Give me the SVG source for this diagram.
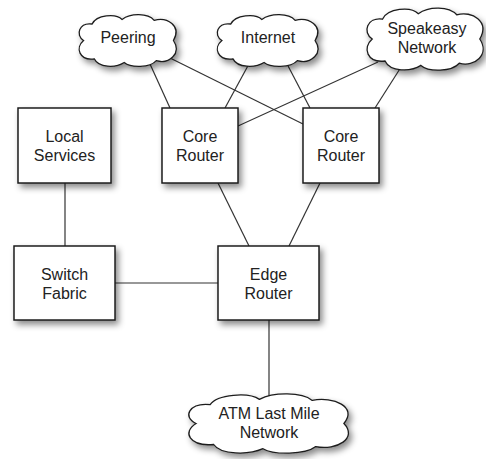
<svg xmlns="http://www.w3.org/2000/svg" xmlns:xlink="http://www.w3.org/1999/xlink" width="486" height="459" viewBox="0 0 486 459">
<style>
.box{fill:#fff;stroke:#1e1e1e;stroke-width:1.5}
.cloud{fill:#fff;stroke:#1e1e1e;stroke-width:1.3}
.lbl{font-family:"Liberation Sans",Arial,sans-serif;font-size:16px;fill:#222;text-anchor:middle}
.conn line{stroke:#333;stroke-width:1.2}
</style>
<defs>
<filter id="sh" x="-20%" y="-20%" width="150%" height="150%">
<feDropShadow dx="3" dy="4" stdDeviation="3" flood-color="#000" flood-opacity="0.45"/>
</filter>
<path id="cl" vector-effect="non-scaling-stroke" d="M 8,30 C 0,24 4,10 16,12 C 20,2 38,0 44,7 C 52,0 68,0 74,8 C 86,4 100,14 92,30 C 100,44 88,56 76,52 C 70,60 52,60 46,54 C 38,60 22,60 18,50 C 4,52 0,38 8,30 Z"/>
</defs>
<rect width="486" height="459" fill="#fff"/>
<g id="connectors" class="conn">
<line x1="150" y1="64" x2="170" y2="108"/>
<line x1="170" y1="58" x2="303" y2="124"/>
<line x1="250" y1="62" x2="225" y2="108"/>
<line x1="286" y1="62" x2="310" y2="108"/>
<line x1="378" y1="62" x2="238" y2="126"/>
<line x1="403" y1="64" x2="375" y2="108"/>
<line x1="65" y1="183" x2="65" y2="246"/>
<line x1="218" y1="183" x2="249" y2="246"/>
<line x1="320" y1="183" x2="289" y2="246"/>
<line x1="115" y1="283" x2="218" y2="283"/>
<line x1="269" y1="320" x2="269" y2="396"/>
</g>
<g id="peering">
<g filter="url(#sh)"><use xlink:href="#cl" class="cloud" transform="translate(75,13) scale(1.07,0.917)"/></g>
<text class="lbl" x="128" y="43">Peering</text>
</g>
<g id="internet">
<g filter="url(#sh)"><use xlink:href="#cl" class="cloud" transform="translate(213,13) scale(1.11,0.917)"/></g>
<text class="lbl" x="268" y="43">Internet</text>
</g>
<g id="speakeasy">
<g filter="url(#sh)"><use xlink:href="#cl" class="cloud" transform="translate(362,6) scale(1.28,1.1)"/></g>
<text class="lbl" x="427" y="34">Speakeasy</text>
<text class="lbl" x="427" y="53">Network</text>
</g>
<g id="local-services">
<rect class="box" x="18" y="108" width="93" height="75" filter="url(#sh)"/>
<text class="lbl" x="64.5" y="142">Local</text>
<text class="lbl" x="64.5" y="161">Services</text>
</g>
<g id="core-router-1">
<rect class="box" x="162" y="108" width="76" height="75" filter="url(#sh)"/>
<text class="lbl" x="200" y="142">Core</text>
<text class="lbl" x="200" y="161">Router</text>
</g>
<g id="core-router-2">
<rect class="box" x="303" y="108" width="76" height="75" filter="url(#sh)"/>
<text class="lbl" x="341" y="142">Core</text>
<text class="lbl" x="341" y="161">Router</text>
</g>
<g id="switch-fabric">
<rect class="box" x="14" y="246" width="101" height="74" filter="url(#sh)"/>
<text class="lbl" x="64.5" y="280">Switch</text>
<text class="lbl" x="64.5" y="299">Fabric</text>
</g>
<g id="edge-router">
<rect class="box" x="218" y="246" width="101" height="74" filter="url(#sh)"/>
<text class="lbl" x="268.5" y="280">Edge</text>
<text class="lbl" x="268.5" y="299">Router</text>
</g>
<g id="atm">
<g filter="url(#sh)"><use xlink:href="#cl" class="cloud" transform="translate(182,392) scale(1.76,1.05)"/></g>
<text class="lbl" x="269" y="419">ATM Last Mile</text>
<text class="lbl" x="269" y="438">Network</text>
</g>
</svg>
